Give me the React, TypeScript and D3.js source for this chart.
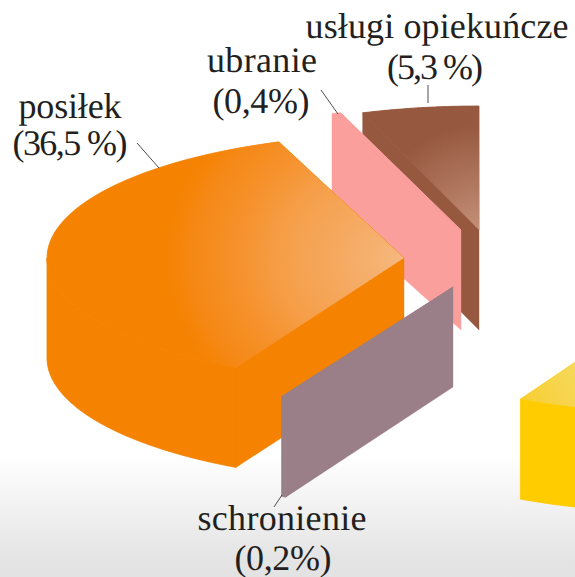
import React from "react";
import * as d3 from "d3";

const categories = ["inne", "schronienie", "posiłek", "ubranie", "usługi opiekuńcze"];
const shares = [57.6, 0.2, 36.5, 0.4, 5.3];
const shareLabels = ["", "(0,2%)", "(36,5 %)", "(0,4%)", "(5,3 %)"];

const W = 575, H = 577;
const RY = 124, DEPTH = 100;
const radiiX = [356, 364, 357, 368, 356];
const apexes: [number, number][] = [[684, 289], [453, 287], [404, 258], [461, 230], [479, 230]];
const topFill = ["url(#gy)", "#9a7f88", "url(#go)", "#fb9f9c", "url(#gb)"];
const sideFill = ["#ffcc00", "#9a7f88", "#f58200", "#fb9f9c", "#96593f"];
const order = [4, 3, 2, 1, 0];

const labelLayout: { lines: { x: number; y: number; len: number }[]; leader: number[] }[] = [
  { lines: [], leader: [] },
  { lines: [{ x: 282, y: 530, len: 169 }, { x: 283, y: 570, len: 97 }], leader: [282, 495, 274, 507] },
  { lines: [{ x: 70, y: 118, len: 103 }, { x: 70, y: 155, len: 115 }], leader: [137, 143, 159, 168] },
  { lines: [{ x: 262, y: 72, len: 110 }, { x: 261, y: 113, len: 97 }], leader: [321, 90, 338, 114] },
  { lines: [{ x: 437, y: 38, len: 263 }, { x: 435, y: 79, len: 96 }], leader: [428, 85, 428, 103] },
];

const pieGen = d3.pie<number>().sort(null).value((d) => d).startAngle(0).endAngle(2 * Math.PI);
const arcs = pieGen(shares);
const sx = d3.scaleLinear().domain([-1, 1]).range([-1, 1]);
const sy = d3.scaleLinear().domain([-1, 1]).range([-RY, RY]);
const rim = (a: number, c: [number, number], rx: number, drop = 0): [number, number] => [
  c[0] + sx(Math.sin(a)) * rx,
  c[1] - sy(Math.cos(a)) + drop,
];
const line = d3.line();
const sample = (a0: number, a1: number) =>
  d3.range(0, 61).map((i) => a0 + ((a1 - a0) * i) / 60);

export default function App() {
  return (
    <svg width={W} height={H} viewBox={`0 0 ${W} ${H}`}
      style={{ position: "absolute", left: 0, top: 0, display: "block", fontFamily: "'Liberation Serif', serif", textRendering: "geometricPrecision" }}>
      <defs>
        <linearGradient id="bg" x1="0" y1="0" x2="0" y2="1">
          <stop offset="0.79" stopColor="#ffffff" />
          <stop offset="0.97" stopColor="#e4e4e4" />
          <stop offset="1" stopColor="#e3e3e3" />
        </linearGradient>
        <radialGradient id="go" gradientUnits="userSpaceOnUse" cx={0} cy={0} r={1}
          gradientTransform={`translate(${apexes[2][0]} ${apexes[2][1]}) scale(250 205)`}>
          <stop offset="0" stopColor="#f5b87f" stopOpacity={1} />
          <stop offset="0.5" stopColor="#f6a355" stopOpacity={0.85} />
          <stop offset="0.85" stopColor="#f69235" stopOpacity={0.4} />
          <stop offset="1" stopColor="#f58200" stopOpacity={0} />
        </radialGradient>
        <radialGradient id="gb" gradientUnits="userSpaceOnUse" cx={apexes[4][0]} cy={apexes[4][1]} r={105}>
          <stop offset="0" stopColor="#c58f78" />
          <stop offset="1" stopColor="#96593f" />
        </radialGradient>
        <linearGradient id="gy" gradientUnits="userSpaceOnUse" x1={520} y1={397} x2={575} y2={365}>
          <stop offset="0" stopColor="#f7cf33" />
          <stop offset="1" stopColor="#f7d85c" />
        </linearGradient>
      </defs>
      <rect width={W} height={H} fill="url(#bg)" />
      {order.map((i) => {
        const d = arcs[i];
        const c = apexes[i];
        const rx = radiiX[i];
        const rimTop = sample(d.startAngle, d.endAngle).map((a) => rim(a, c, rx));
        const fFrom = Math.max(d.startAngle, Math.PI / 2);
        const fTo = Math.min(d.endAngle, (3 * Math.PI) / 2);
        const outer = fTo > fFrom
          ? [...sample(fFrom, fTo).map((a) => rim(a, c, rx)), ...sample(fFrom, fTo).reverse().map((a) => rim(a, c, rx, DEPTH))]
          : null;
        const s0 = rim(d.startAngle, c, rx);
        const face: [number, number][] = [c, s0, [s0[0], s0[1] + DEPTH], [c[0], c[1] + DEPTH]];
        const top = line([c, ...rimTop]) + "Z";
        return (
          <g key={categories[i]}>
            <path d={top} fill={sideFill[i]} stroke={sideFill[i]} strokeWidth={0.8} />
            {outer && <path d={line(outer) + "Z"} fill={sideFill[i]} stroke={sideFill[i]} strokeWidth={0.8} />}
            <path d={line(face) + "Z"} fill={sideFill[i]} stroke={sideFill[i]} strokeWidth={0.4} />
            <path d={top} fill={topFill[i]} />
          </g>
        );
      })}
      {labelLayout.map((l, i) => l.lines.length === 0 ? null : (
        <g key={categories[i]} fill="#231f20" fontSize={36} textAnchor="middle">
          <line x1={l.leader[0]} y1={l.leader[1]} x2={l.leader[2]} y2={l.leader[3]} stroke="#231f20" strokeWidth={0.8} />
          <text x={l.lines[0].x} y={l.lines[0].y} textLength={l.lines[0].len} lengthAdjust="spacing">{categories[i]}</text>
          <text x={l.lines[1].x} y={l.lines[1].y} textLength={l.lines[1].len} lengthAdjust="spacing">{shareLabels[i]}</text>
        </g>
      ))}
    </svg>
  );
}
